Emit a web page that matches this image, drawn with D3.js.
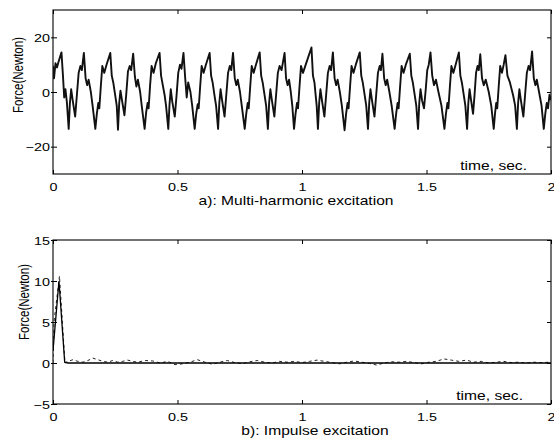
<!DOCTYPE html>
<html><head><meta charset="utf-8">
<script src="https://cdn.jsdelivr.net/npm/d3@7"></script>
<style>
html,body{margin:0;padding:0;background:#fff;}
svg{display:block;}
text{font-family:"Liberation Sans",Arial,Helvetica,sans-serif;fill:#000;}
</style></head>
<body>
<svg id="chart" width="554" height="441"></svg>
<script>
// ---------- data ----------
const xTicks = [0, 0.5, 1, 1.5, 2];
const xTickLabels = ["0", "0.5", "1", "1.5", "2"];
const topYTicks = [-20, 0, 20];
const bottomYTicks = [-5, 0, 5, 10, 15];
const topTitle = "a): Multi-harmonic excitation";
const bottomTitle = "b): Impulse excitation";
const yLabel = "Force(Newton)";
const xLabel = "time, sec.";

// multi-harmonic excitation force [time s, force N]
const multiHarmonic = [
[0,9.6],[0.004,5],[0.010,10.5],[0.016,9],[0.022,11],[0.034,14.5],[0.040,6],[0.045,-2],[0.050,1],[0.056,-4],
[0.063,-13.5],[0.068,-4],[0.073,1],[0.079,-3],[0.089,-9],[0.096,-1],[0.103,7],[0.110,9.5],[0.116,8],[0.124,14.3],[0.131,5],[0.137,2.5],[0.143,4.5],[0.152,0],[0.159,-5],
[0.170,-13.5],[0.176,-8],[0.182,-4],[0.186,-6],[0.192,2],[0.198,9.5],[0.206,7],[0.215,10],[0.230,14.3],[0.236,6],[0.242,3.5],[0.250,-1.3],[0.256,-5],
[0.261,-13.8],[0.266,-4],[0.271,0.5],[0.277,-3],[0.287,-8.5],[0.294,-1],[0.301,7.5],[0.308,9.5],[0.314,8],[0.322,14],[0.329,5.5],[0.335,2],[0.341,4.5],[0.350,0],[0.357,-5.5],
[0.368,-13.5],[0.374,-7.5],[0.380,-4],[0.384,-6],[0.390,2.5],[0.396,9.5],[0.404,7],[0.413,10.5],[0.428,14.3],[0.434,6],[0.440,3],[0.448,-1],[0.454,-5],
[0.463,-13.5],[0.468,-4.5],[0.473,1],[0.479,-3.5],[0.489,-9],[0.496,-1.5],[0.503,7],[0.510,10],[0.516,8.5],[0.524,14.3],[0.531,5],[0.537,-2],[0.543,3.5],[0.552,0],[0.559,-5],
[0.569,-13.5],[0.575,-8],[0.581,-4.5],[0.585,-6],[0.591,2],[0.597,9.5],[0.605,7],[0.614,10],[0.629,14.3],[0.635,6],[0.641,3.5],[0.649,-1.5],[0.655,-5],
[0.663,-13.5],[0.668,-4],[0.673,1],[0.679,-3],[0.689,-9],[0.696,-1],[0.703,7],[0.710,9.5],[0.716,8],[0.723,14.3],[0.730,5],[0.736,2.5],[0.742,4.5],[0.751,0],[0.758,-5],
[0.770,-13.5],[0.776,-8],[0.782,-4],[0.786,-6],[0.792,2],[0.798,9.5],[0.806,7],[0.815,10],[0.830,14.5],[0.836,6],[0.842,3.5],[0.850,-1.3],[0.856,-5],
[0.863,-13.5],[0.868,-4],[0.873,1],[0.879,-3],[0.889,-9],[0.896,-1],[0.903,7],[0.910,9.5],[0.918,8],[0.930,14.3],[0.936,5],[0.942,2.5],[0.948,4.5],[0.955,0],[0.961,-5],
[0.968,-13.5],[0.974,-8],[0.980,-4],[0.984,-6],[0.990,2],[0.996,9.5],[1.004,7],[1.015,10],[1.038,16.3],[1.044,6],[1.050,3.5],[1.055,-1.3],[1.059,-5],
[1.064,-13.5],[1.069,-4],[1.074,1],[1.080,-3],[1.090,-9],[1.097,-1],[1.104,7],[1.111,9.5],[1.117,8],[1.124,14.5],[1.131,5],[1.137,2.5],[1.143,4.5],[1.152,0],[1.160,-5],
[1.171,-14],[1.177,-8],[1.183,-4],[1.187,-6],[1.193,2],[1.199,9.5],[1.207,7],[1.216,10],[1.232,14.5],[1.238,6],[1.244,3.5],[1.252,-1.3],[1.258,-5],
[1.265,-13.5],[1.270,-4],[1.275,1],[1.281,-3],[1.291,-9],[1.298,-1],[1.305,7],[1.312,9.5],[1.317,8],[1.323,14],[1.330,5],[1.336,2.5],[1.342,4.5],[1.351,0],[1.360,-5],
[1.372,-13.5],[1.378,-8],[1.384,-4],[1.388,-6],[1.394,2],[1.400,9.5],[1.408,7],[1.417,10],[1.433,14],[1.439,6],[1.445,3.5],[1.453,-1.3],[1.459,-5],
[1.466,-13.5],[1.471,-4],[1.476,1],[1.482,-3],[1.490,-6],[1.497,1],[1.503,8],[1.509,10],[1.516,14.5],[1.523,6],[1.530,2.5],[1.538,4.5],[1.548,0],[1.560,-5],
[1.572,-13.5],[1.578,-8],[1.584,-4],[1.588,-6],[1.594,2],[1.600,9.5],[1.608,7],[1.617,10],[1.630,14.5],[1.636,6],[1.642,3.5],[1.650,-1.3],[1.656,-5],
[1.663,-13.5],[1.668,-4],[1.673,1],[1.679,-3],[1.687,-8],[1.693,-1],[1.699,7],[1.705,9.5],[1.710,8],[1.716,13.8],[1.723,5],[1.730,2.5],[1.738,4.5],[1.750,0],[1.760,-5],
[1.770,-13.5],[1.775,-8],[1.780,-4],[1.784,-6],[1.790,2],[1.796,9.5],[1.803,7],[1.810,10],[1.817,13.5],[1.825,6],[1.835,3.5],[1.848,-1.3],[1.856,-5],
[1.863,-13.5],[1.868,-4],[1.873,1],[1.879,-3],[1.889,-9],[1.896,-1],[1.903,7],[1.910,9.5],[1.916,8],[1.924,14.8],[1.931,5],[1.937,2.5],[1.943,4.5],[1.952,0],[1.962,-5],
[1.971,-13.5],[1.977,-8],[1.983,-4],[1.988,-6],[1.994,-1],[2.0,-3]
];

// impulse excitation (commanded, solid)
const impulseCommand = [[0,1.5],[0.024,10],[0.047,0.1],[0.06,0],[2.0,0]];
// impulse excitation (measured, dashed)
const impulseMeasured = [
[0,0],[0.004,5],[0.026,10.6],[0.048,0],[0.06,0.2],[0.08,0.4],[0.10,0.2],[0.12,0.1],[0.14,0.3],[0.16,0.6],[0.18,0.4],
[0.20,0.2],[0.22,0.1],[0.24,0.3],[0.26,0.1],[0.28,0.2],[0.30,0.35],[0.32,0.2],[0.34,0.1],[0.37,0.3],[0.40,0.25],
[0.43,0.0],[0.46,0.2],[0.49,-0.2],[0.52,-0.1],[0.55,0.1],[0.58,0.4],[0.61,0.1],[0.64,-0.15],[0.67,0.1],[0.70,0.3],
[0.73,0.05],[0.76,-0.1],[0.79,0.15],[0.82,0.3],[0.85,0.1],[0.88,0.0],[0.91,0.2],[0.94,0.1],[0.97,0.2],[1.00,0.05],
[1.03,0.2],[1.06,0.35],[1.09,0.2],[1.12,0.05],[1.15,-0.1],[1.18,0.1],[1.21,0.25],[1.24,0.1],[1.27,-0.05],[1.30,-0.25],
[1.33,0.0],[1.36,0.15],[1.39,0.1],[1.42,0.2],[1.45,0.05],[1.48,-0.1],[1.51,0.1],[1.54,0.2],[1.57,0.5],[1.60,0.35],
[1.63,0.2],[1.66,0.35],[1.69,0.1],[1.72,0.2],[1.75,0.0],[1.78,0.1],[1.81,0.2],[1.84,0.05],[1.87,0.1],[1.90,0.0],
[1.93,0.1],[1.96,0.05],[2.00,0.1]
];

// ---------- drawing ----------
const svg = d3.select("#chart");
svg.append("rect").attr("width",554).attr("height",441).attr("fill","#fff");

const L = 53, R = 551;
const x = d3.scaleLinear().domain([0,2]).range([L,R]);
const FONT = "11.5px";
const SX = 1.25;

function panel(opts){
  const {top, bottom, yDomain, yTicks, title, titleX, ylabX, ylabY, timeX} = opts;
  const y = d3.scaleLinear().domain(yDomain).range([bottom, top]);
  const g = svg.append("g");

  g.append("rect").attr("x",L).attr("y",top).attr("width",R-L).attr("height",bottom-top)
    .attr("fill","none").attr("stroke","#000").attr("stroke-width",1.1);

  const styleAxis = sel => { sel.attr("font-family",null).attr("font-size",null);
    sel.select(".domain").remove(); sel.selectAll("line").attr("stroke","#000"); };

  const ab = g.append("g").attr("transform",`translate(0,${bottom})`)
    .call(d3.axisBottom(x).tickValues(xTicks).tickFormat((d,i)=>xTickLabels[i]).tickSizeInner(-4).tickSizeOuter(0));
  styleAxis(ab);
  ab.selectAll("text").attr("y",0).attr("dy",0).style("font-size",FONT)
    .attr("transform",`translate(0,16.5) scale(${SX},1)`);
  const at = g.append("g").attr("transform",`translate(0,${top})`)
    .call(d3.axisTop(x).tickValues(xTicks).tickFormat("").tickSizeInner(-4).tickSizeOuter(0));
  styleAxis(at);
  const al = g.append("g").attr("transform",`translate(${L},0)`)
    .call(d3.axisLeft(y).tickValues(yTicks).tickSizeInner(-4).tickSizeOuter(0));
  styleAxis(al);
  al.selectAll("line").attr("x1",-2);
  al.selectAll("text").attr("x",0).attr("dy","0.36em").style("font-size",FONT)
    .attr("transform",`translate(-3,0) scale(${SX},1)`);
  const ar = g.append("g").attr("transform",`translate(${R},0)`)
    .call(d3.axisRight(y).tickValues(yTicks).tickFormat("").tickSizeInner(-4).tickSizeOuter(0));
  styleAxis(ar);

  g.append("text").text(yLabel).attr("text-anchor","middle").style("font-size","11.5px")
    .attr("transform",`translate(${ylabX},${ylabY}) scale(1.2,1) rotate(-90)`);
  g.append("text").text(xLabel).attr("text-anchor","end").style("font-size","12px")
    .attr("transform",`translate(${timeX},${bottom-4.5}) scale(1.3,1)`);
  g.append("text").text(title).attr("text-anchor","middle").style("font-size","12px")
    .attr("transform",`translate(${titleX},${bottom+30.5}) scale(1.3,1)`);

  const clip = "clip"+top;
  svg.append("clipPath").attr("id",clip).append("rect").attr("x",L).attr("y",top).attr("width",R-L).attr("height",bottom-top);
  const line = d3.line().x(d=>x(d[0])).y(d=>y(d[1]));
  return {g, y, line, clip};
}

const p1 = panel({top:10,bottom:174,yDomain:[-30,30],yTicks:topYTicks,title:topTitle,titleX:296,ylabX:23,ylabY:75,timeX:527});
p1.g.append("path").datum(multiHarmonic).attr("d",p1.line).attr("fill","none")
  .attr("stroke","#111").attr("stroke-width",1.9).attr("stroke-linejoin","round").attr("clip-path",`url(#${p1.clip})`);

const p2 = panel({top:240,bottom:404,yDomain:[-5,15],yTicks:bottomYTicks,title:bottomTitle,titleX:315,ylabX:29,ylabY:302,timeX:523});
p2.g.append("path").datum(impulseMeasured).attr("d",p2.line).attr("fill","none")
  .attr("stroke","#222").attr("stroke-width",1).attr("stroke-dasharray","3,3").attr("clip-path",`url(#${p2.clip})`);
p2.g.append("path").datum(impulseCommand).attr("d",p2.line).attr("fill","none")
  .attr("stroke","#000").attr("stroke-width",1.3).attr("clip-path",`url(#${p2.clip})`);
</script>
</body></html>
